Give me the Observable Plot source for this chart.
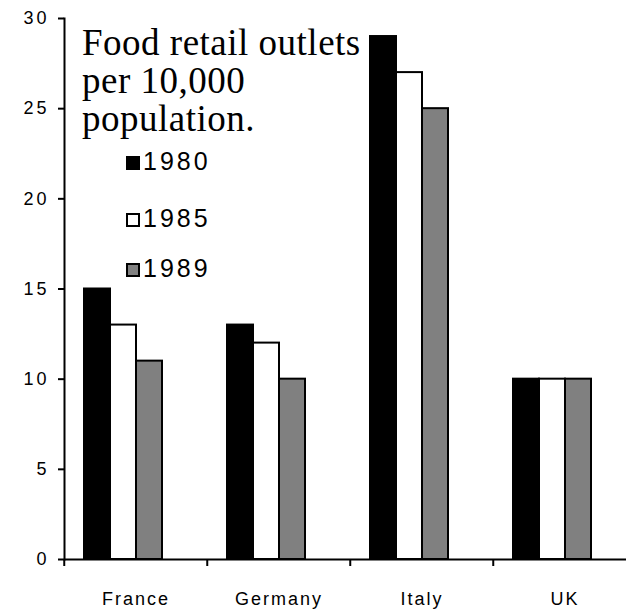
<!DOCTYPE html>
<html><head><meta charset="utf-8">
<script src="https://cdn.jsdelivr.net/npm/d3@7"></script>
<script src="https://cdn.jsdelivr.net/npm/@observablehq/plot@0.6"></script>
<style>
html,body{margin:0;padding:0;background:#fff;overflow:hidden;}
#wrap{position:relative;width:626px;height:609px;overflow:hidden;}
#wrap svg{position:absolute;left:0;top:0;}
#title{position:absolute;left:82px;top:24px;font-family:"Liberation Serif","Times New Roman",serif;font-size:37px;line-height:38px;letter-spacing:0.5px;color:#000;white-space:nowrap;}
.leg{position:absolute;left:126px;font-family:"Liberation Sans",Arial,sans-serif;font-size:25px;line-height:25px;letter-spacing:3px;white-space:nowrap;color:#000;}
.sw{display:inline-block;width:14px;height:14px;box-sizing:border-box;border:2px solid #000;margin-right:3px;vertical-align:baseline;}
.fxlab text{letter-spacing:2px;}
.ylab text{letter-spacing:3px;}
</style></head>
<body><div id="wrap"></div>
<script>
// ---- data ----
const countries = ["France", "Germany", "Italy", "UK"];
const years = ["1980", "1985", "1989"];
const v1980 = [15, 13, 29, 10];
const v1985 = [13, 12, 27, 10];
const v1989 = [11, 10, 25, 10];
const yearColors = ["#000000", "#ffffff", "#808080"];
const yTicks = [0, 5, 10, 15, 20, 25, 30];
const titleLines = ["Food retail outlets", "per 10,000", "population."];

const series = [v1980, v1985, v1989];
const rows = countries.flatMap((c, i) => years.map((y, j) => ({country: c, year: y, value: series[j][i]})));

// ---- layout ----
const W = 626, H = 609;
const mLeft = 63, mTop = 18, mBottom = 50;
const groupWidth = 143.5;

const chart = Plot.plot({
  width: W, height: H,
  marginLeft: mLeft, marginRight: 0, marginTop: mTop, marginBottom: mBottom,
  style: {fontFamily: "'Liberation Sans', Arial, sans-serif", fontSize: "18px", color: "#000", background: "#fff", maxWidth: "none"},
  fx: {domain: countries, range: [mLeft, mLeft + countries.length * groupWidth], padding: 0, axis: null, label: null},
  x: {domain: years, paddingInner: 0, paddingOuter: 1.225, align: 0.31, axis: null},
  y: {domain: [0, 30], axis: null},
  color: {domain: years, range: yearColors},
  marks: [
    Plot.barY(rows, {fx: "country", x: "year", y: "value", fill: "year", stroke: "#000", strokeWidth: 2}),
    Plot.ruleY([0], {stroke: "#000", strokeWidth: 2}),
    Plot.frame({anchor: "left", facetAnchor: "left", stroke: "#000", strokeWidth: 2}),
    Plot.axisY(yTicks, {anchor: "left", tickSize: 6, tickPadding: 9, strokeWidth: 2, fontSize: 18, label: null, className: "ylab"}),
    Plot.axisFx({anchor: "bottom", tickSize: 0, tickPadding: 33, fontSize: 18, label: null, className: "fxlab"}),
    Plot.axisFx({anchor: "bottom", tickSize: 7, tickFormat: () => "", dx: -groupWidth / 2, strokeWidth: 2, label: null})
  ]
});

const wrap = document.getElementById("wrap");
wrap.appendChild(chart);

// title overlay
const title = document.createElement("div");
title.id = "title";
titleLines.forEach(t => { const d = document.createElement("div"); d.textContent = t; title.appendChild(d); });
wrap.appendChild(title);

// legend overlay
const legTops = [149, 206, 256];
years.forEach((y, j) => {
  const row = document.createElement("div");
  row.className = "leg";
  row.style.top = legTops[j] + "px";
  const sw = document.createElement("span");
  sw.className = "sw";
  sw.style.background = yearColors[j];
  row.appendChild(sw);
  row.appendChild(document.createTextNode(y));
  wrap.appendChild(row);
});
</script>
</body></html>
